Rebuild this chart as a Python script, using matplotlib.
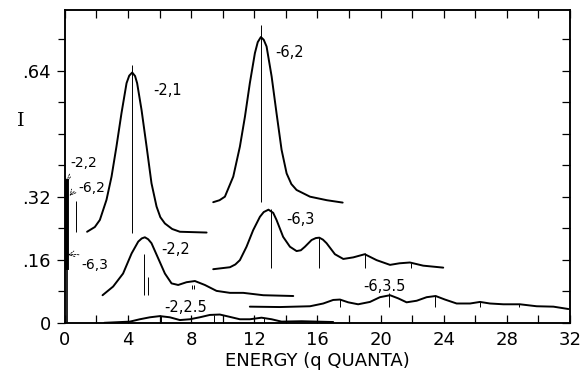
import numpy as np
import matplotlib.pyplot as plt

# spectra (energy in q quanta, intensity I)
x_21 = [1.41, 1.9, 2.22, 2.64, 2.96, 3.27, 3.59, 3.91, 4.08, 4.27, 4.45, 4.58, 4.86, 5.18, 5.49, 5.81, 6.05, 6.34,
        6.8, 7.29, 8.98]
y_21 = [0.231, 0.243, 0.261, 0.312, 0.371, 0.447, 0.532, 0.608, 0.627, 0.635, 0.626, 0.608, 0.540, 0.447, 0.354,
        0.295, 0.268, 0.252, 0.238, 0.231, 0.229]

x_62 = [9.4, 9.8, 10.14, 10.67, 11.09, 11.41, 11.72, 12.04, 12.22, 12.42, 12.6, 12.78, 13.1, 13.41, 13.73, 14.05,
        14.35, 14.68, 15.53, 16.6, 17.6]
y_62 = [0.306, 0.311, 0.320, 0.371, 0.447, 0.523, 0.608, 0.684, 0.712, 0.725, 0.718, 0.701, 0.625, 0.532, 0.439,
        0.379, 0.352, 0.337, 0.320, 0.311, 0.305]

x_63 = [9.4, 10.46, 10.8, 11.09, 11.51, 11.93, 12.36, 12.6, 12.9, 13.2, 13.41, 13.83, 14.26, 14.68, 14.95, 15.21,
        15.63, 15.9, 16.12, 16.35, 16.58, 17.11, 17.64, 18.27, 19.0, 19.75, 20.6, 21.2, 21.86, 22.7, 23.97]
y_63 = [0.136, 0.141, 0.148, 0.159, 0.193, 0.235, 0.269, 0.281, 0.287, 0.279, 0.261, 0.218, 0.193, 0.182, 0.184,
        0.193, 0.210, 0.215, 0.216, 0.211, 0.202, 0.174, 0.162, 0.166, 0.174, 0.159, 0.147, 0.151, 0.153, 0.145,
        0.140]

x_22 = [2.39, 3.06, 3.69, 4.23, 4.65, 4.87, 5.07, 5.28, 5.49, 5.91, 6.34, 6.76, 7.18, 7.71, 8.24, 8.87, 9.61,
        10.46, 11.3, 12.57, 14.47]
y_22 = [0.070, 0.092, 0.125, 0.176, 0.206, 0.214, 0.217, 0.212, 0.202, 0.164, 0.125, 0.100, 0.096, 0.103, 0.106,
        0.096, 0.081, 0.076, 0.076, 0.070, 0.068]

x_635 = [11.72, 13.62, 15.53, 16.37, 17.0, 17.43, 17.95, 18.58, 19.33, 19.96, 20.6, 21.12, 21.65, 22.29, 22.92,
         23.49, 24.08, 24.82, 25.67, 26.3, 26.93, 27.78, 28.83, 29.89, 30.95, 31.9]
y_635 = [0.041, 0.040, 0.042, 0.049, 0.058, 0.059, 0.052, 0.047, 0.053, 0.065, 0.070, 0.062, 0.052, 0.056, 0.065,
         0.068, 0.059, 0.049, 0.049, 0.053, 0.049, 0.047, 0.047, 0.042, 0.041, 0.035]

x_225 = [2.5, 4.12, 4.75, 5.39, 6.02, 6.65, 7.29, 7.92, 8.55, 9.19, 9.82, 10.46, 11.09, 11.72, 12.46, 13.1, 13.73,
         15.0, 17.0]
y_225 = [0.0, 0.003, 0.009, 0.014, 0.017, 0.014, 0.007, 0.009, 0.014, 0.020, 0.021, 0.015, 0.009, 0.009, 0.013,
         0.009, 0.003, 0.004, 0.002]

curves = [(x_21, y_21), (x_62, y_62), (x_63, y_63), (x_22, y_22), (x_635, y_635), (x_225, y_225)]

# stick lines: position, bottom, top
stick_x = [4.27, 12.42, 13.05, 16.08, 19.0, 21.9, 5.0, 5.28, 8.05, 8.2,
           17.43, 20.55, 23.45, 26.3, 28.8, 6.1, 9.45, 12.6, 0.7]
stick_lo = [0.229, 0.306, 0.140, 0.140, 0.140, 0.140, 0.070, 0.070, 0.086, 0.086,
            0.040, 0.040, 0.040, 0.040, 0.040, 0.0, 0.0, 0.0, 0.231]
stick_hi = [0.654, 0.756, 0.289, 0.216, 0.176, 0.153, 0.175, 0.117, 0.097, 0.097,
            0.060, 0.075, 0.069, 0.053, 0.048, 0.017, 0.021, 0.013, 0.310]

labels = ['-2,1', '-6,2', '-6,3', '-2,2', '-2,2.5', '-6,3.5']
label_x = [5.6, 13.35, 14.0, 6.1, 6.3, 18.9]
label_y = [0.59, 0.685, 0.261, 0.185, 0.039, 0.091]

# labels near E = 0 with dashed pointers
side_labels = ['-2,2', '-6,2', '-6,3']
side_text = [(0.32, 0.405), (0.84, 0.341), (1.06, 0.147)]
side_point = [(0.12, 0.355), (0.3, 0.322), (0.2, 0.172)]

plt.rcParams['font.family'] = 'DejaVu Sans'
fig = plt.figure(figsize=(5.84, 3.78), dpi=100)
ax = fig.add_axes([0.111, 0.146, 0.865, 0.828])

for xs, ys in curves:
    ax.plot(xs, ys, color='black', lw=1.4, solid_joinstyle='round', solid_capstyle='round')

ax.vlines(stick_x, stick_lo, stick_hi, color='black', lw=0.7)

# spike at E ~ 0
ax.plot([0.12, 0.12], [0.0, 0.14], color='black', lw=1.2)
ax.plot([0.12, 0.12], [0.14, 0.36], color='black', lw=2.8)

for t, lx, ly in zip(labels, label_x, label_y):
    ax.text(lx, ly, t, fontsize=10.5, va='center', ha='left')

for t, (tx, ty), (px, py) in zip(side_labels, side_text, side_point):
    ax.annotate(t, xy=(px, py), xytext=(tx, ty), fontsize=10, va='center', ha='left',
                arrowprops=dict(arrowstyle='->', lw=0.6, linestyle=(0, (2, 1.5)),
                                connectionstyle='arc3,rad=0.3', shrinkA=1, shrinkB=0))

ax.set_xlim(0, 32)
ax.set_ylim(0, 0.794)
ax.set_xticks(np.arange(0, 33, 4))
ax.set_xticks(np.arange(0, 33, 2), minor=True)
ax.set_yticks([0, 0.16, 0.32, 0.64])
ax.set_yticklabels(['0', '.16', '.32', '.64'])
ax.set_yticks(np.arange(0, 0.79, 0.08), minor=True)
ax.tick_params(axis='x', which='both', direction='in', top=True, labelsize=13, pad=6, length=6, width=0.9)
ax.tick_params(axis='y', which='both', direction='out', labelsize=13, pad=4, length=6, width=0.9)
ax.tick_params(axis='y', which='minor', length=5)

# inward ticks on the right edge
ax_r = ax.twinx()
ax_r.set_ylim(0, 0.794)
ax_r.set_yticks(np.arange(0, 0.79, 0.08))
ax_r.tick_params(axis='y', direction='in', length=6, width=0.9, labelright=False)

for a in (ax, ax_r):
    for s in a.spines.values():
        s.set_linewidth(1.1)

ax.set_xlabel('ENERGY (q QUANTA)', fontsize=13, labelpad=2)
fig.text(0.035, 0.68, 'I', fontsize=14, family='DejaVu Serif', ha='center', va='center')

fig.savefig('out.png', dpi=100)
